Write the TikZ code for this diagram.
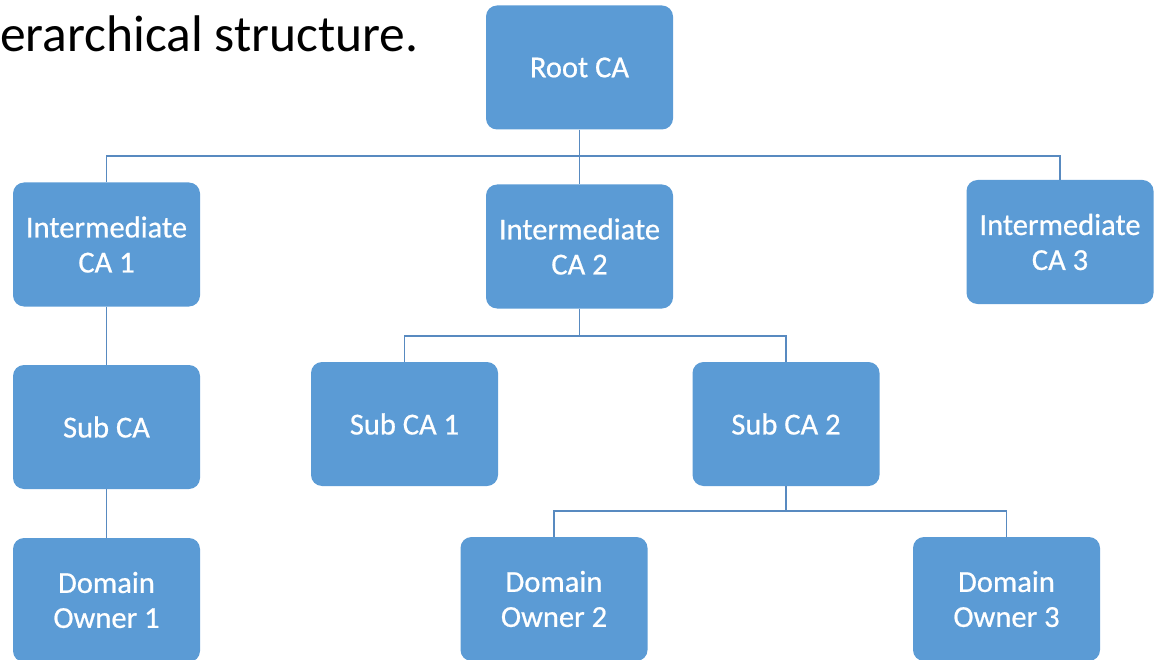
\documentclass[tikz,border=0pt]{standalone}
\usepackage{fontspec}
\setmainfont{Carlito}
\newfontfamily\boxfont[FakeBold=0.6]{Carlito}
\definecolor{boxblue}{RGB}{91,155,213}
\definecolor{lineblue}{RGB}{88,138,192}
\begin{document}
\begin{tikzpicture}[x=1pt,y=-1pt,
  cabox/.style={fill=boxblue, rounded corners=11pt, minimum width=187pt, minimum height=124pt,
    inner sep=0pt, text=white, align=center, font=\boxfont\fontsize{30.5}{35}\selectfont},
  link/.style={draw=lineblue, line width=1.3pt}]
\useasboundingbox (0,0) rectangle (1161,660);
\clip (0,0) rectangle (1161,660);
\node[anchor=base west, inner sep=0pt, font=\fontsize{51.5}{60}\selectfont] (title) at (0,52) {erarchical structure.};
\node[cabox] (root) at (579.5,67.5) {Root CA};
\node[cabox] (i1) at (106.5,244.5) {Intermediate\\CA 1};
\node[cabox] (i2) at (579.5,246.5) {Intermediate\\CA 2};
\node[cabox] (i3) at (1060,242) {Intermediate\\CA 3};
\node[cabox] (sub) at (106.5,427) {Sub CA};
\node[cabox] (s1) at (404.5,424) {Sub CA 1};
\node[cabox] (s2) at (786,424) {Sub CA 2};
\node[cabox] (d1) at (106.5,600) {Domain\\Owner 1};
\node[cabox] (d2) at (554,599) {Domain\\Owner 2};
\node[cabox] (d3) at (1006.5,599) {Domain\\Owner 3};
\coordinate (r1) at (579.5,156);
\coordinate (r2) at (579.5,336);
\coordinate (r3) at (786,511);
\draw[link] (root.south) -- (r1);
\draw[link] (r1) -| (i1.north);
\draw[link] (r1) -- (i2.north);
\draw[link] (r1) -| (i3.north);
\draw[link] (i1.south) -- (sub.north);
\draw[link] (sub.south) -- (d1.north);
\draw[link] (i2.south) -- (r2);
\draw[link] (r2) -| (s1.north);
\draw[link] (r2) -| (s2.north);
\draw[link] (s2.south) -- (r3);
\draw[link] (r3) -| (d2.north);
\draw[link] (r3) -| (d3.north);
\end{tikzpicture}
\end{document}
